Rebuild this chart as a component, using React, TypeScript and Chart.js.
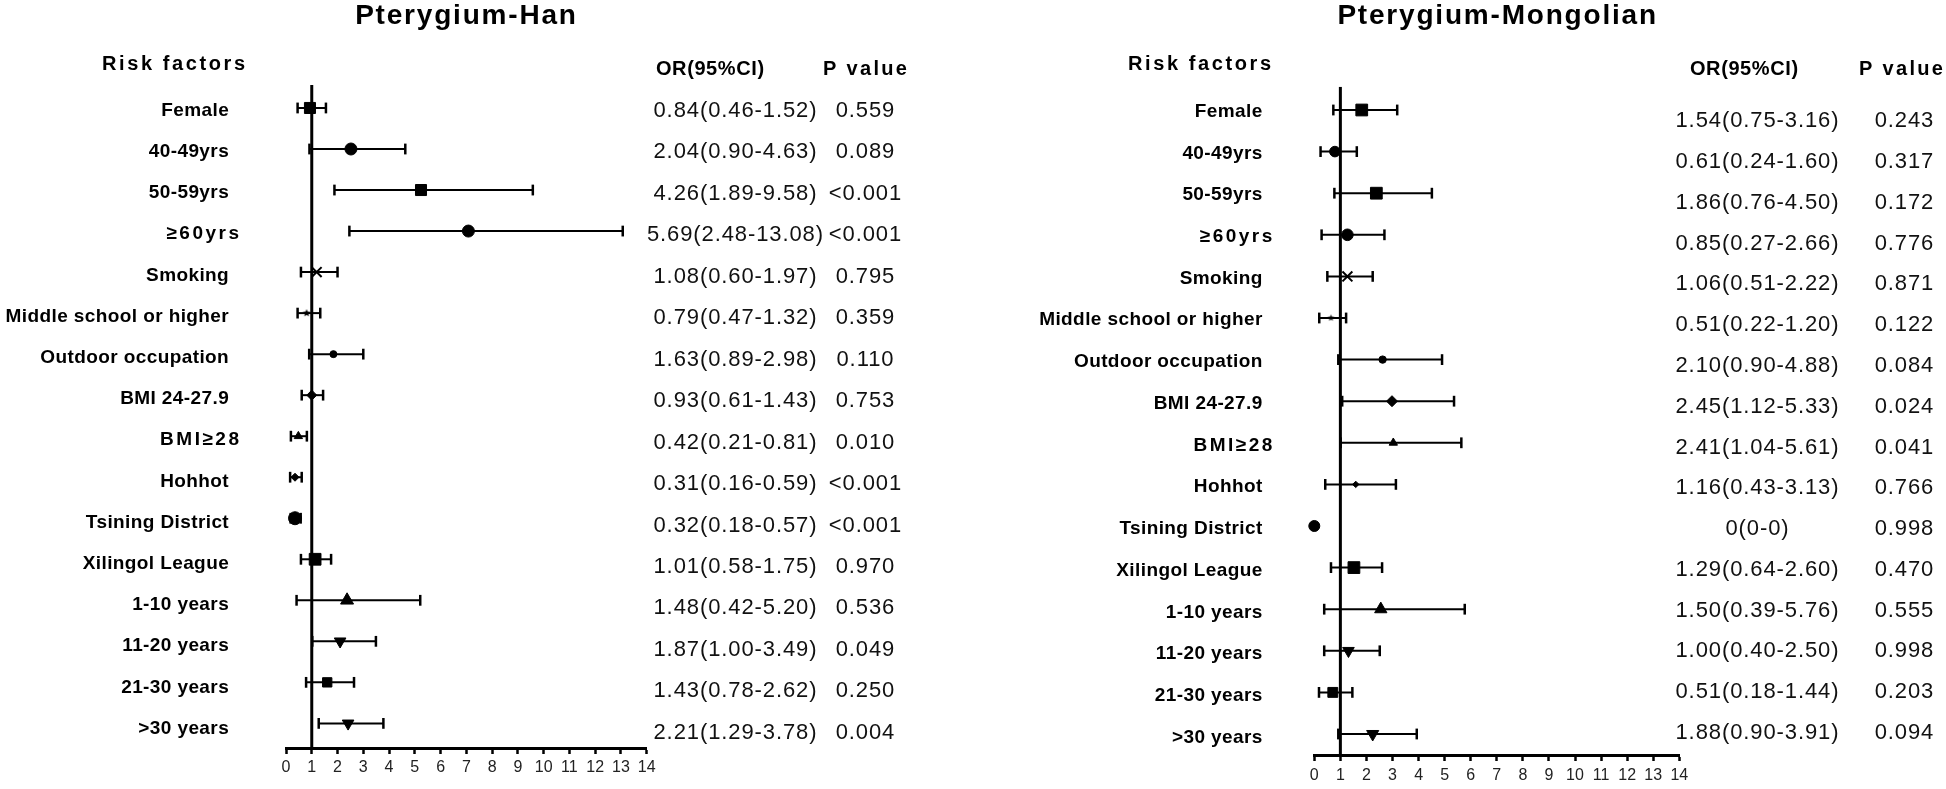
import React, { useEffect, useRef } from 'react';
import { Chart, registerables } from 'chart.js';

Chart.register(...registerables);

// ---------- data ----------
const riskFactors = [
  'Female', '40-49yrs', '50-59yrs', '≥60yrs', 'Smoking', 'Middle school or higher',
  'Outdoor occupation', 'BMI 24-27.9', 'BMI≥28', 'Hohhot', 'Tsining District',
  'Xilingol League', '1-10 years', '11-20 years', '21-30 years', '>30 years',
];

const hanOR = [
  '0.84(0.46-1.52)', '2.04(0.90-4.63)', '4.26(1.89-9.58)', '5.69(2.48-13.08)', '1.08(0.60-1.97)',
  '0.79(0.47-1.32)', '1.63(0.89-2.98)', '0.93(0.61-1.43)', '0.42(0.21-0.81)', '0.31(0.16-0.59)',
  '0.32(0.18-0.57)', '1.01(0.58-1.75)', '1.48(0.42-5.20)', '1.87(1.00-3.49)', '1.43(0.78-2.62)',
  '2.21(1.29-3.78)',
];
const hanP = [
  '0.559', '0.089', '<0.001', '<0.001', '0.795', '0.359', '0.110', '0.753', '0.010', '<0.001',
  '<0.001', '0.970', '0.536', '0.049', '0.250', '0.004',
];
const hanPoint = [0.93, 2.52, 5.24, 7.08, 1.19, 0.8, 1.84, 1.0, 0.48, 0.35, 0.35, 1.13, 2.37, 2.1, 1.6, 2.41];
const hanLow = [0.45, 0.91, 1.88, 2.46, 0.58, 0.45, 0.9, 0.61, 0.19, 0.16, 0.18, 0.58, 0.41, 1.02, 0.78, 1.27];
const hanHigh = [1.55, 4.63, 9.58, 13.07, 2.0, 1.33, 3.0, 1.44, 0.81, 0.61, 0.57, 1.75, 5.21, 3.49, 2.64, 3.78];

const monOR = [
  '1.54(0.75-3.16)', '0.61(0.24-1.60)', '1.86(0.76-4.50)', '0.85(0.27-2.66)', '1.06(0.51-2.22)',
  '0.51(0.22-1.20)', '2.10(0.90-4.88)', '2.45(1.12-5.33)', '2.41(1.04-5.61)', '1.16(0.43-3.13)',
  '0(0-0)', '1.29(0.64-2.60)', '1.50(0.39-5.76)', '1.00(0.40-2.50)', '0.51(0.18-1.44)',
  '1.88(0.90-3.91)',
];
const monP = [
  '0.243', '0.317', '0.172', '0.776', '0.871', '0.122', '0.084', '0.024', '0.041', '0.766',
  '0.998', '0.470', '0.555', '0.998', '0.203', '0.094',
];
const monPoint = [1.82, 0.79, 2.38, 1.27, 1.27, 0.64, 2.62, 2.98, 3.03, 1.59, 0, 1.52, 2.55, 1.31, 0.71, 2.24];
const monLow = [0.73, 0.24, 0.77, 0.28, 0.5, 0.19, 0.92, 1.07, 1.01, 0.42, null, 0.64, 0.38, 0.38, 0.18, 0.92];
const monHigh = [3.18, 1.63, 4.51, 2.69, 2.24, 1.22, 4.9, 5.36, 5.64, 3.13, null, 2.6, 5.77, 2.51, 1.46, 3.93];

const axisMin = 0;
const axisMax = 14;
const axisStep = 1;
const referenceOR = 1;

// ---------- styles ----------
const markerShapes = [
  'rect', 'circle', 'rect', 'circle', 'crossRot', 'star5', 'circle', 'rectRot',
  'triangle', 'rectRot', 'circle', 'rect', 'triangle', 'triangleDown', 'rect', 'triangleDown',
];
const hanMarkerRadius = [7.8, 6, 7.8, 6, 7, 4, 3.5, 5, 4.8, 4, 6.5, 8.3, 7.5, 6.7, 6.6, 6.7];
const monMarkerRadius = [8.3, 5.3, 8.3, 5.8, 7, 3.5, 3.7, 5.5, 4.8, 3.2, 5.5, 8.3, 7.1, 6.7, 7, 7];

const FONT = "'Liberation Sans', Arial, sans-serif";
const W = 973;
const H = 789;

function makeStar(r: number) {
  const s = Math.ceil(r * 2 + 2);
  const c = document.createElement('canvas');
  c.width = s;
  c.height = s;
  const g = c.getContext('2d')!;
  g.fillStyle = '#000';
  g.beginPath();
  for (let k = 0; k < 10; k++) {
    const rr = k % 2 === 0 ? r : r * 0.45;
    const a = -Math.PI / 2 + (k * Math.PI) / 5;
    const px = s / 2 + rr * Math.cos(a);
    const py = s / 2 + rr * Math.sin(a);
    if (k === 0) g.moveTo(px, py);
    else g.lineTo(px, py);
  }
  g.closePath();
  g.fill();
  return c;
}

type PanelCfg = {
  offset: number;
  title: string;
  titleX: number;
  riskX: number;
  labelRight: number;
  labelRightWide: number;
  labelY0: number;
  labelDY: number;
  orHeadX: number;
  pHeadX: number;
  headY: number;
  orX: number;
  pX: number;
  tableY0: number;
  tableDY: number;
  orText: string[];
  pText: string[];
  point: number[];
  low: (number | null)[];
  high: (number | null)[];
  radius: number[];
  plotLeft: number;
  plotRight: number;
  plotTop: number;
  axisY: number;
  yMin: number;
  yMax: number;
  tickPad: number;
};

function txt(
  ctx: CanvasRenderingContext2D, s: string, x: number, yc: number, size: number,
  bold: boolean, align: CanvasTextAlign, ls: number, color = '#000',
) {
  ctx.save();
  ctx.font = `${bold ? 'bold ' : ''}${size}px ${FONT}`;
  (ctx as any).letterSpacing = `${ls}px`;
  ctx.textAlign = align;
  ctx.textBaseline = 'alphabetic';
  ctx.fillStyle = color;
  let xx = x;
  if (align === 'right') xx = x + ls;
  if (align === 'center') xx = x + ls / 2;
  ctx.fillText(s, xx, yc + size * 0.358);
  ctx.restore();
}

function Panel({ cfg }: { cfg: PanelCfg }) {
  const ref = useRef<HTMLCanvasElement>(null);
  useEffect(() => {
    const canvas = ref.current!;
    const o = cfg.offset;
    const star = makeStar(cfg.radius[5]);
    const styles = markerShapes.map((s) => {
      if (s === 'star5') return star;
      if (s === 'triangleDown') return 'triangle';
      return s;
    });
    const rotations = markerShapes.map((s) => (s === 'triangleDown' ? 180 : 0));

    const datasets: any[] = [];
    datasets.push({
      data: cfg.point.map((v, i) => ({ x: v, y: i })),
      showLine: false,
      pointStyle: styles,
      pointRotation: rotations,
      pointRadius: cfg.radius,
      pointBackgroundColor: '#000',
      pointBorderColor: '#000',
      pointBorderWidth: markerShapes.map((s) => (s === 'crossRot' ? 2 : 1)),
      clip: false,
    });
    cfg.low.forEach((lo, i) => {
      const hi = cfg.high[i];
      if (lo == null || hi == null) return;
      datasets.push({
        data: [{ x: lo, y: i }, { x: hi, y: i }],
        showLine: true,
        borderColor: '#000',
        borderWidth: 2,
        pointStyle: 'line',
        pointRotation: 90,
        pointRadius: 5.4,
        pointBorderWidth: 2.5,
        pointBorderColor: '#000',
        clip: false,
      });
    });
    datasets.push({
      data: [{ x: referenceOR, y: cfg.yMin }, { x: referenceOR, y: cfg.yMax }],
      showLine: true,
      borderColor: '#000',
      borderWidth: 3,
      pointRadius: 0,
    });

    const textPlugin = {
      id: 'forestText',
      afterDraw(chart: any) {
        const ctx: CanvasRenderingContext2D = chart.ctx;
        txt(ctx, cfg.title, cfg.titleX - o, 14.3, 28, true, 'center', 1.8);
        txt(ctx, 'Risk factors', cfg.riskX - o, 63, 20, true, 'left', 2.6);
        riskFactors.forEach((lab, i) => {
          const y = cfg.labelY0 + i * cfg.labelDY;
          if (lab.includes('≥')) {
            txt(ctx, lab, cfg.labelRightWide - o, y, 19, true, 'right', 2.5);
          } else {
            txt(ctx, lab, cfg.labelRight - o, y, 19, true, 'right', 0.4);
          }
        });
        txt(ctx, 'OR(95%CI)', cfg.orHeadX - o, cfg.headY, 20, true, 'center', 0.6);
        txt(ctx, 'P value', cfg.pHeadX - o, cfg.headY, 20, true, 'center', 2.3);
        cfg.orText.forEach((s, i) => {
          const y = cfg.tableY0 + i * cfg.tableDY;
          txt(ctx, s, cfg.orX - o, y, 22, false, 'center', 0.9, '#111');
          txt(ctx, cfg.pText[i], cfg.pX - o, y, 22, false, 'center', 0.9, '#111');
        });
      },
    };

    const chart = new Chart(canvas, {
      type: 'scatter',
      data: { datasets },
      options: {
        responsive: false,
        animation: false,
        events: [],
        layout: {
          padding: {
            left: cfg.plotLeft - o,
            right: W - (cfg.plotRight - o),
            top: cfg.plotTop,
            bottom: 0,
          },
        },
        plugins: { legend: { display: false }, tooltip: { enabled: false } },
        scales: {
          x: {
            type: 'linear',
            min: axisMin,
            max: axisMax,
            afterFit: (s: any) => {
              s.height = H - cfg.axisY;
            },
            ticks: {
              stepSize: axisStep,
              autoSkip: false,
              maxRotation: 0,
              font: { family: FONT, size: 16 },
              color: '#222',
              padding: cfg.tickPad,
            },
            grid: {
              display: true,
              drawOnChartArea: false,
              drawTicks: true,
              tickLength: 6,
              tickWidth: 2.5,
              tickColor: '#000',
            },
            border: { display: true, color: '#000', width: 3 },
          },
          y: {
            type: 'linear',
            display: false,
            min: cfg.yMin,
            max: cfg.yMax,
            reverse: true,
          },
        },
      } as any,
      plugins: [textPlugin],
    });
    return () => chart.destroy();
  }, []);
  return (
    <canvas
      ref={ref}
      width={W}
      height={H}
      style={{ position: 'absolute', left: cfg.offset, top: 0, width: W, height: H }}
    />
  );
}

const hanCfg: PanelCfg = {
  offset: 0,
  title: 'Pterygium-Han',
  titleX: 465.5,
  riskX: 102,
  labelRight: 228.7,
  labelRightWide: 239,
  labelY0: 109,
  labelDY: (727 - 109) / 15,
  orHeadX: 710,
  pHeadX: 865,
  headY: 67.5,
  orX: 735,
  pX: 865,
  tableY0: 109,
  tableDY: (731 - 109) / 15,
  orText: hanOR,
  pText: hanP,
  point: hanPoint,
  low: hanLow,
  high: hanHigh,
  radius: hanMarkerRadius,
  plotLeft: 286,
  plotRight: 646.7,
  plotTop: 85,
  axisY: 748,
  yMin: -0.56,
  yMax: 15.6,
  tickPad: 4,
};

const monCfg: PanelCfg = {
  offset: 973,
  title: 'Pterygium-Mongolian',
  titleX: 1496.7,
  riskX: 1128,
  labelRight: 1262.3,
  labelRightWide: 1272.3,
  labelY0: 110,
  labelDY: (736 - 110) / 15,
  orHeadX: 1744,
  pHeadX: 1901,
  headY: 67.5,
  orX: 1757,
  pX: 1904,
  tableY0: 119.5,
  tableDY: (731 - 119.5) / 15,
  orText: monOR,
  pText: monP,
  point: monPoint,
  low: monLow,
  high: monHigh,
  radius: monMarkerRadius,
  plotLeft: 1314.3,
  plotRight: 1679.3,
  plotTop: 86.7,
  axisY: 755,
  yMin: -0.56,
  yMax: 15.505,
  tickPad: 5,
};

export default function App() {
  return (
    <div style={{ position: 'absolute', left: 0, top: 0, width: 1946, height: 789, background: '#fff', overflow: 'hidden' }}>
      <Panel cfg={hanCfg} />
      <Panel cfg={monCfg} />
    </div>
  );
}
